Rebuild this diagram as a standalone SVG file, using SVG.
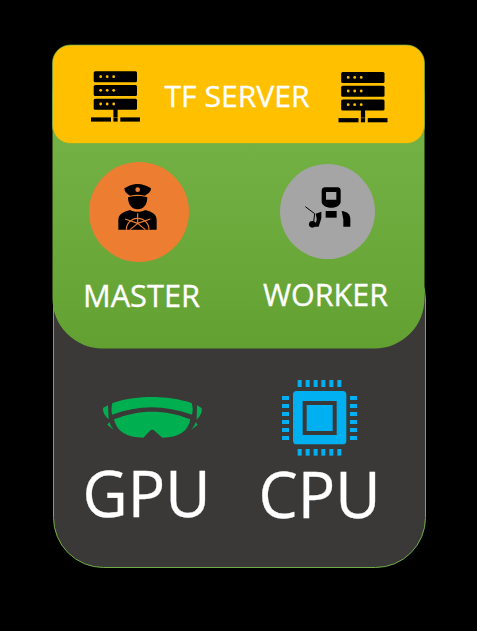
<svg xmlns="http://www.w3.org/2000/svg" width="477" height="631" viewBox="0 0 477 631">
<style>
text{font-family:"Open Sans","Noto Sans","Liberation Sans",sans-serif;fill:#fff;text-anchor:middle;stroke:#fff;stroke-width:.35}
.k{fill:#000}
.o{fill:#ed7d31}
.gy{fill:#a5a5a5}
</style>
<defs>
<linearGradient id="gr" x1="0" y1="0" x2="0" y2="1"><stop offset="0" stop-color="#7cb84e"/><stop offset="1" stop-color="#62a131"/></linearGradient>
<g id="srv">
<rect class="k" x="93.7" y="71.3" width="43.3" height="11" rx="1.5"/>
<rect class="k" x="93.7" y="85" width="43.3" height="11" rx="1.5"/>
<rect class="k" x="93.7" y="98.7" width="43.3" height="11" rx="1.5"/>
<g fill="#ffc000"><circle cx="100.7" cy="76.7" r="1.4"/><circle cx="107.2" cy="76.7" r="1.4"/><circle cx="113.7" cy="76.7" r="1.4"/><circle cx="100.7" cy="90.3" r="1.4"/><circle cx="107.2" cy="90.3" r="1.4"/><circle cx="113.7" cy="90.3" r="1.4"/><circle cx="100.7" cy="104" r="1.4"/><circle cx="107.2" cy="104" r="1.4"/><circle cx="113.7" cy="104" r="1.4"/></g>
<rect class="k" x="113.4" y="109" width="4.2" height="8"/>
<rect class="k" x="91" y="117.4" width="20" height="4.2"/>
<rect class="k" x="113.4" y="117.4" width="4.2" height="4.2"/>
<rect class="k" x="120.3" y="117.4" width="19.7" height="4.2"/>
</g>
</defs>
<rect width="477" height="631" fill="#000"/>
<g id="compute">
<rect x="53.5" y="250" width="372" height="317.5" rx="50" fill="#3b3838" stroke="#70ad47" stroke-width="1"/>
<g id="gpu">
<g transform="translate(90 375) scale(.33333)">
<path fill="#00b050" d="M67 84C110 70 150 66 185 66C225 66 270 72 305 84C309 98 309 108 306 119C265 105 225 97 185 97C145 97 105 105 66 119C64 108 64 96 67 84Z"/>
<path fill="#00b050" d="M72 133C110 118 150 110 185 110C225 110 265 118 301 133C295 170 265 188 217 188L190 164H183L160 188C110 188 80 170 72 133Z"/>
<path fill="#00b050" d="M54 91L39 99C38 110 43 122 56 133Z"/>
<path fill="#00b050" d="M321 91L335 99C337 110 332 122 320 134Z"/>
<path fill="#00b050" d="M58 141L52 149L71 164C65 157 60 149 58 141Z"/>
<path fill="#00b050" d="M317 141L323 149L304 164C310 157 315 149 317 141Z"/>
</g>
<text x="146.5" y="517" font-size="64" textLength="128" lengthAdjust="spacingAndGlyphs">GPU</text>
</g>
<g id="cpu">
<g transform="translate(270 370) scale(.33333)">
<rect x="69" y="63" width="160" height="160" rx="11" fill="#00b0f0"/>
<path fill="#3b3838" fill-rule="evenodd" d="M98 93H200V195H98ZM110 105V183H188V105Z"/>
<g fill="#00b0f0">
<rect x="83" y="30" width="12" height="21"/><rect x="107" y="30" width="12" height="21"/><rect x="131" y="30" width="12" height="21"/><rect x="154" y="30" width="12" height="21"/><rect x="178" y="30" width="12" height="21"/><rect x="202" y="30" width="12" height="21"/>
<rect x="83" y="237" width="12" height="20"/><rect x="107" y="237" width="12" height="20"/><rect x="131" y="237" width="12" height="20"/><rect x="154" y="237" width="12" height="20"/><rect x="178" y="237" width="12" height="20"/><rect x="202" y="237" width="12" height="20"/>
<rect x="36" y="78" width="21" height="12"/><rect x="36" y="102" width="21" height="12"/><rect x="36" y="126" width="21" height="12"/><rect x="36" y="150" width="21" height="12"/><rect x="36" y="174" width="21" height="12"/><rect x="36" y="198" width="21" height="12"/>
<rect x="240" y="78" width="21" height="12"/><rect x="240" y="102" width="21" height="12"/><rect x="240" y="126" width="21" height="12"/><rect x="240" y="150" width="21" height="12"/><rect x="240" y="174" width="21" height="12"/><rect x="240" y="198" width="21" height="12"/>
</g>
</g>
<text x="319.5" y="518" font-size="64" textLength="122" lengthAdjust="spacingAndGlyphs">CPU</text>
</g>
</g>
<g id="cluster">
<rect x="52.5" y="45" width="372" height="303.5" rx="50" fill="url(#gr)"/>
</g>
<g id="tf-server">
<rect x="52.5" y="45" width="372" height="98.5" rx="18" fill="#ffc000" stroke="#70ad47" stroke-width=".7"/>
<use href="#srv"/>
<use href="#srv" transform="translate(247.5 0.7)"/>
<text x="237" y="107" font-size="30" textLength="145" lengthAdjust="spacingAndGlyphs">TF SERVER</text>
</g>
<g id="master">
<circle cx="139" cy="212" r="50" class="o"/>
<g transform="translate(80 155) scale(.33333)">
<path class="k" d="M133 100C150 90 160 87 173 87C187 87 200 92 213 100C213 110 205 116 195 122C180 118 165 118 150 122C140 116 133 110 133 100Z"/>
<path class="k" d="M144 127C162 122 184 122 202 127C202 150 190 163 173 163C156 163 144 150 144 127Z"/>
<path class="k" d="M115 224V195C115 178 130 170 150 165C160 172 186 172 196 165C216 170 230 178 230 195V224Z"/>
<circle cx="173" cy="104" r="7" class="o"/>
<g fill="none" stroke="#ed7d31" stroke-width="3.5">
<path d="M139 224A34 34 0 0 1 207 224"/>
<path d="M173 175V205M173 205L135 192M173 205L211 192M173 205L150 224M173 205L196 224"/>
</g>
</g>
<text x="141.5" y="307" font-size="30.5" textLength="117" lengthAdjust="spacingAndGlyphs">MASTER</text>
</g>
<g id="worker">
<circle cx="327.5" cy="211.5" r="47.5" class="gy"/>
<g transform="translate(270 155) scale(.33333)">
<path class="k" fill-rule="evenodd" d="M165 97H203C209 97 212 101 212 107V140C212 150 200 158 184 158C168 158 155 150 155 140V107C155 101 159 97 165 97ZM168 111V134H199V111Z"/>
<path class="k" d="M167 168H200V188H167Z"/>
<path class="k" d="M215 168C232 170 241 178 241 192V215H220V193Z"/>
<path class="k" d="M154 170V190L146 215H133V206C138 203 141 198 140 190L137 176Z"/>
<circle cx="127" cy="208" r="10" class="k"/>
<path d="M106 155L134 176L131 200" fill="none" stroke="#000" stroke-width="3"/>
</g>
<text x="325.5" y="306" font-size="30.5" textLength="125" lengthAdjust="spacingAndGlyphs">WORKER</text>
</g>
</svg>
